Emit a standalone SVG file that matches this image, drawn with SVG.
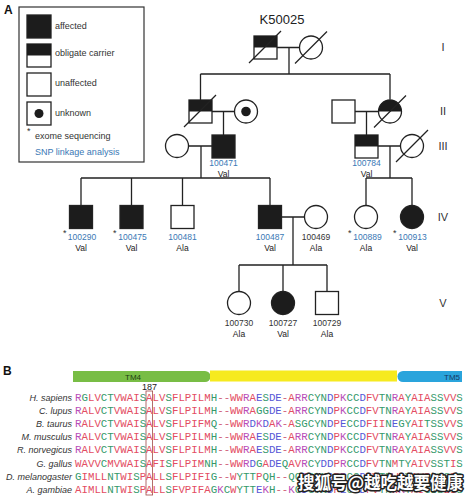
<svg xmlns="http://www.w3.org/2000/svg" width="466" height="499" viewBox="0 0 466 499">
<style>
.ln{stroke:#222;stroke-width:1.3;fill:none}
.sh{stroke:#222;stroke-width:1.3;fill:#fff}
.af{fill:#1c1c1c;stroke:#222;stroke-width:1.3}
.bk{fill:#1c1c1c}
.t{font-family:"Liberation Sans",Arial,sans-serif;fill:#333}
.lg{font-size:9px}
.id{font-size:8.5px;fill:#3a78b5;text-anchor:middle}
.idk{font-size:8.5px;fill:#333;text-anchor:middle}
.al{font-size:8.5px;fill:#222;text-anchor:middle}
.rn{font-size:11px;fill:#333;text-anchor:middle}
.sp{font-size:9px;font-style:italic;text-anchor:end;fill:#333}
.sq{font-family:"Liberation Mono","Courier New",monospace;font-size:10.78px}
.r{fill:#e34c62}.b{fill:#5656d6}.m{fill:#b84cb8}.g{fill:#33996a}.d{fill:#d0607a}
</style>

<text class="t" x="4" y="14" style="font-size:12px;font-weight:bold;fill:#111">A</text>
<g id="legend">
<rect x="19" y="7" width="125" height="155" fill="none" stroke="#333" stroke-width="1.2"/>
<rect class="af" x="27" y="15" width="24" height="23"/>
<text class="t lg" x="55" y="29">affected</text>
<rect class="sh" x="27" y="44" width="24" height="23"/>
<rect class="bk" x="27" y="44" width="24" height="11.5"/>
<text class="t lg" x="55" y="56">obligate carrier</text>
<rect class="sh" x="27" y="73" width="24" height="23"/>
<text class="t lg" x="55" y="86">unaffected</text>
<rect class="sh" x="27" y="102" width="24" height="23"/>
<circle class="bk" cx="39" cy="113.5" r="4.5"/>
<text class="t lg" x="55" y="116">unknown</text>
<text class="t lg" x="27" y="134">*</text>
<text class="t lg" x="35" y="139">exome sequencing</text>
<text class="t lg" x="35" y="155" style="fill:#3a78b5">SNP linkage analysis</text>
</g>

<text class="t" x="282" y="24" style="font-size:13px;text-anchor:middle;fill:#222">K50025</text>
<g id="generations">
<text class="t rn" x="443" y="51">I</text>
<text class="t rn" x="443" y="115">II</text>
<text class="t rn" x="443" y="150">III</text>
<text class="t rn" x="443" y="221">IV</text>
<text class="t rn" x="443" y="307">V</text>
</g>

<g id="connectors">
<path class="ln" d="M277 47.5H299.5M289 47.5V74M200.5 74H390M200.5 74V100M390 74V99.5"/>
<path class="ln" d="M212 111.5H234.5M223.5 111.5V135M355 111.5H378.5M366.5 111.5V135"/>
<path class="ln" d="M189 146H212M201 146V178M81 178H270M81 178V205.5M131.5 178V205.5M182.5 178V205.5M270 178V205.5"/>
<path class="ln" d="M378 146H400.5M390 146V178M366 178H412M366 178V205.5M412 178V205.5"/>
<path class="ln" d="M281.5 217H304.5M293 217V265M239 265H327M239 265V291.5M283 265V291.5M327 265V291.5"/>
</g>

<g id="I-1"><rect class="sh" x="254" y="36" width="23" height="23"/><rect class="bk" x="254" y="36" width="23" height="11.5"/><path class="ln" d="M249 63L281 31"/></g>
<g id="I-2"><circle class="sh" cx="311" cy="47.5" r="11.5"/><path class="ln" d="M295 63.5L327 31.5"/></g>

<g id="II-1"><rect class="sh" x="189" y="100" width="23" height="23"/><rect class="bk" x="189" y="100" width="23" height="11.5"/><path class="ln" d="M184 127L216 95"/></g>
<g id="II-2"><circle class="sh" cx="246" cy="111.5" r="11.5"/><circle class="bk" cx="246" cy="111.5" r="4.8"/></g>
<g id="II-3"><rect class="sh" x="332" y="100" width="23" height="23"/></g>
<g id="II-4"><circle class="sh" cx="390" cy="111.5" r="11.5"/><path class="bk" d="M378.5 111.5A11.5 11.5 0 0 1 401.5 111.5Z"/><path class="ln" d="M374 127.5L406 95.5"/></g>

<g id="III-1"><circle class="sh" cx="177" cy="146" r="11.5"/></g>
<g id="III-2"><rect class="af" x="212" y="135" width="23" height="23"/>
<text class="t id" x="223.5" y="166">100471</text><text class="t al" x="223.5" y="177">Val</text></g>
<g id="III-3"><rect class="sh" x="355" y="135" width="23" height="23"/><rect class="bk" x="355" y="135" width="23" height="11.5"/>
<text class="t id" x="366.5" y="166">100784</text><text class="t al" x="366.5" y="177">Val</text></g>
<g id="III-4"><circle class="sh" cx="412" cy="146" r="11.5"/><path class="ln" d="M396 162L428 130"/></g>

<g id="IV-1"><rect class="af" x="69.5" y="205.5" width="23" height="23"/>
<text class="t lg" x="63" y="236">*</text><text class="t id" x="82" y="240">100290</text><text class="t al" x="81" y="251">Val</text></g>
<g id="IV-2"><rect class="af" x="120" y="205.5" width="23" height="23"/>
<text class="t lg" x="113" y="236">*</text><text class="t id" x="132.5" y="240">100475</text><text class="t al" x="131.5" y="251">Val</text></g>
<g id="IV-3"><rect class="sh" x="171" y="205.5" width="23" height="23"/>
<text class="t id" x="182.5" y="240">100481</text><text class="t al" x="182.5" y="251">Ala</text></g>
<g id="IV-4"><rect class="af" x="258.5" y="205.5" width="23" height="23"/>
<text class="t id" x="270" y="240">100487</text><text class="t al" x="270" y="251">Val</text></g>
<g id="IV-5"><circle class="sh" cx="316" cy="217" r="11.5"/>
<text class="t idk" x="316" y="240">100469</text><text class="t al" x="316" y="251">Ala</text></g>
<g id="IV-6"><circle class="sh" cx="366" cy="217" r="11.5"/>
<text class="t lg" x="348" y="236">*</text><text class="t id" x="367.5" y="240">100889</text><text class="t al" x="366" y="251">Ala</text></g>
<g id="IV-7"><circle class="af" cx="412" cy="217" r="11.5"/>
<text class="t lg" x="393" y="236">*</text><text class="t id" x="412.5" y="240">100913</text><text class="t al" x="412" y="251">Val</text></g>

<g id="V-1"><circle class="sh" cx="239" cy="303" r="11.5"/>
<text class="t idk" x="239" y="326">100730</text><text class="t al" x="239" y="337">Ala</text></g>
<g id="V-2"><circle class="af" cx="283" cy="303" r="11.5"/>
<text class="t idk" x="283" y="326">100727</text><text class="t al" x="283" y="337">Val</text></g>
<g id="V-3"><rect class="sh" x="315.5" y="291.5" width="23" height="23"/>
<text class="t idk" x="327" y="326">100729</text><text class="t al" x="327" y="337">Ala</text></g>

<text class="t" x="3" y="375" style="font-size:12px;font-weight:bold;fill:#111">B</text>
<g id="domains">
<path d="M73 371H205A5.5 5.5 0 0 1 205 382H73Z" fill="#78bd45"/>
<rect x="210" y="370.5" width="187" height="11" fill="#f6ea1f"/>
<path d="M403 371H462V382H403A5.5 5.5 0 0 1 403 371Z" fill="#2aa4dc"/>
<text class="t" x="133" y="379.5" style="font-size:8px;text-anchor:middle;fill:#1e3d12">TM4</text>
<text class="t" x="460" y="379.5" style="font-size:8px;text-anchor:end;fill:#163a66">TM5</text>
</g>
<text class="t" x="149.5" y="390" style="font-size:9px;text-anchor:middle;fill:#222">187</text>
<rect x="146" y="391" width="6.6" height="104" fill="none" stroke="#a04848" stroke-width="0.8"/>

<g id="species">
<text class="t sp" x="72" y="400.5">H. sapiens</text>
<text class="t sp" x="72" y="413.7">C. lupus</text>
<text class="t sp" x="72" y="426.9">B. taurus</text>
<text class="t sp" x="72" y="440.1">M. musculus</text>
<text class="t sp" x="72" y="453.3">R. norvegicus</text>
<text class="t sp" x="72" y="466.5">G. gallus</text>
<text class="t sp" x="72" y="479.7">D. melanogaster</text>
<text class="t sp" x="72" y="492.9">A. gambiae</text>
</g>

<g id="alignment" class="sq">
<text x="75" y="400.5"><tspan class="m">R</tspan><tspan class="g">G</tspan><tspan class="r">LV</tspan><tspan class="g">CT</tspan><tspan class="r">VWAI</tspan><tspan class="g">S</tspan><tspan class="r">ALV</tspan><tspan class="g">S</tspan><tspan class="r">FLPILM</tspan><tspan class="g">H</tspan><tspan class="d">--</tspan><tspan class="r">WW</tspan><tspan class="m">R</tspan><tspan class="r">A</tspan><tspan class="b">E</tspan><tspan class="g">S</tspan><tspan class="b">DE</tspan><tspan class="d">-</tspan><tspan class="r">A</tspan><tspan class="m">RR</tspan><tspan class="g">CYN</tspan><tspan class="b">D</tspan><tspan class="r">P</tspan><tspan class="m">K</tspan><tspan class="g">CC</tspan><tspan class="b">D</tspan><tspan class="r">FV</tspan><tspan class="g">TN</tspan><tspan class="m">R</tspan><tspan class="r">A</tspan><tspan class="g">Y</tspan><tspan class="r">AIA</tspan><tspan class="g">SS</tspan><tspan class="r">VV</tspan><tspan class="g">S</tspan></text>
<text x="75" y="413.7"><tspan class="m">R</tspan><tspan class="r">ALV</tspan><tspan class="g">CT</tspan><tspan class="r">VWAI</tspan><tspan class="g">S</tspan><tspan class="r">ALV</tspan><tspan class="g">S</tspan><tspan class="r">FLPILM</tspan><tspan class="g">H</tspan><tspan class="d">--</tspan><tspan class="r">WW</tspan><tspan class="m">R</tspan><tspan class="r">A</tspan><tspan class="g">GG</tspan><tspan class="b">DE</tspan><tspan class="d">-</tspan><tspan class="r">A</tspan><tspan class="m">RR</tspan><tspan class="g">CYN</tspan><tspan class="b">D</tspan><tspan class="r">P</tspan><tspan class="m">K</tspan><tspan class="g">CC</tspan><tspan class="b">D</tspan><tspan class="r">FV</tspan><tspan class="g">TN</tspan><tspan class="m">R</tspan><tspan class="r">A</tspan><tspan class="g">Y</tspan><tspan class="r">AIA</tspan><tspan class="g">SS</tspan><tspan class="r">VV</tspan><tspan class="g">S</tspan></text>
<text x="75" y="426.9"><tspan class="m">R</tspan><tspan class="r">ALV</tspan><tspan class="g">CT</tspan><tspan class="r">VWAI</tspan><tspan class="g">S</tspan><tspan class="r">ALV</tspan><tspan class="g">S</tspan><tspan class="r">FLPIFM</tspan><tspan class="g">Q</tspan><tspan class="d">--</tspan><tspan class="r">WW</tspan><tspan class="m">R</tspan><tspan class="b">D</tspan><tspan class="m">K</tspan><tspan class="b">D</tspan><tspan class="r">A</tspan><tspan class="m">K</tspan><tspan class="d">-</tspan><tspan class="r">A</tspan><tspan class="g">SGCYN</tspan><tspan class="b">D</tspan><tspan class="r">P</tspan><tspan class="b">E</tspan><tspan class="g">CC</tspan><tspan class="b">D</tspan><tspan class="r">FII</tspan><tspan class="g">N</tspan><tspan class="b">E</tspan><tspan class="g">GY</tspan><tspan class="r">AI</tspan><tspan class="g">TSS</tspan><tspan class="r">VV</tspan><tspan class="g">S</tspan></text>
<text x="75" y="440.1"><tspan class="m">R</tspan><tspan class="r">ALV</tspan><tspan class="g">CT</tspan><tspan class="r">VWAI</tspan><tspan class="g">S</tspan><tspan class="r">ALV</tspan><tspan class="g">S</tspan><tspan class="r">FLPILM</tspan><tspan class="g">H</tspan><tspan class="d">--</tspan><tspan class="r">WW</tspan><tspan class="m">R</tspan><tspan class="r">A</tspan><tspan class="b">E</tspan><tspan class="g">S</tspan><tspan class="b">DE</tspan><tspan class="d">-</tspan><tspan class="r">A</tspan><tspan class="m">RR</tspan><tspan class="g">CYN</tspan><tspan class="b">D</tspan><tspan class="r">P</tspan><tspan class="m">K</tspan><tspan class="g">CC</tspan><tspan class="b">D</tspan><tspan class="r">FV</tspan><tspan class="g">TN</tspan><tspan class="m">R</tspan><tspan class="r">A</tspan><tspan class="g">Y</tspan><tspan class="r">AIA</tspan><tspan class="g">SS</tspan><tspan class="r">VV</tspan><tspan class="g">S</tspan></text>
<text x="75" y="453.3"><tspan class="m">R</tspan><tspan class="r">ALV</tspan><tspan class="g">CT</tspan><tspan class="r">VWAI</tspan><tspan class="g">S</tspan><tspan class="r">ALV</tspan><tspan class="g">S</tspan><tspan class="r">FLPILM</tspan><tspan class="g">H</tspan><tspan class="d">--</tspan><tspan class="r">WW</tspan><tspan class="m">R</tspan><tspan class="r">A</tspan><tspan class="b">E</tspan><tspan class="g">S</tspan><tspan class="b">DE</tspan><tspan class="d">-</tspan><tspan class="r">A</tspan><tspan class="m">RR</tspan><tspan class="g">CYN</tspan><tspan class="b">D</tspan><tspan class="r">P</tspan><tspan class="m">K</tspan><tspan class="g">CC</tspan><tspan class="b">D</tspan><tspan class="r">FV</tspan><tspan class="g">TN</tspan><tspan class="m">R</tspan><tspan class="r">A</tspan><tspan class="g">Y</tspan><tspan class="r">AIA</tspan><tspan class="g">SS</tspan><tspan class="r">VV</tspan><tspan class="g">S</tspan></text>
<text x="75" y="466.5"><tspan class="r">WAVV</tspan><tspan class="g">C</tspan><tspan class="r">MVWAI</tspan><tspan class="g">S</tspan><tspan class="r">AFI</tspan><tspan class="g">S</tspan><tspan class="r">FLPIM</tspan><tspan class="g">NH</tspan><tspan class="d">--</tspan><tspan class="r">WW</tspan><tspan class="m">R</tspan><tspan class="b">D</tspan><tspan class="g">G</tspan><tspan class="r">A</tspan><tspan class="b">DE</tspan><tspan class="g">Q</tspan><tspan class="r">AV</tspan><tspan class="m">R</tspan><tspan class="g">CY</tspan><tspan class="b">DD</tspan><tspan class="r">P</tspan><tspan class="m">R</tspan><tspan class="g">CC</tspan><tspan class="b">D</tspan><tspan class="r">FV</tspan><tspan class="g">TN</tspan><tspan class="r">M</tspan><tspan class="g">TY</tspan><tspan class="r">AIV</tspan><tspan class="g">SST</tspan><tspan class="r">I</tspan><tspan class="g">S</tspan></text>
<text x="75" y="479.7"><tspan class="g">G</tspan><tspan class="r">IMLL</tspan><tspan class="g">NT</tspan><tspan class="r">WI</tspan><tspan class="g">S</tspan><tspan class="r">PALL</tspan><tspan class="g">S</tspan><tspan class="r">FLPIFI</tspan><tspan class="g">G</tspan><tspan class="d">--</tspan><tspan class="r">W</tspan><tspan class="g">YTT</tspan><tspan class="r">P</tspan><tspan class="g">QH</tspan><tspan class="d">--</tspan><tspan class="g">QG</tspan><tspan class="m">R</tspan><tspan class="g">CYN</tspan><tspan class="b">D</tspan><tspan class="r">P</tspan><tspan class="m">R</tspan><tspan class="g">CC</tspan><tspan class="b">D</tspan><tspan class="r">FV</tspan><tspan class="g">TN</tspan><tspan class="r">W</tspan><tspan class="m">K</tspan><tspan class="g">Y</tspan><tspan class="r">AVI</tspan><tspan class="g">GSS</tspan><tspan class="r">I</tspan><tspan class="g">S</tspan></text>
<text x="75" y="492.9"><tspan class="r">AIMLL</tspan><tspan class="g">NT</tspan><tspan class="r">WI</tspan><tspan class="g">S</tspan><tspan class="r">PALL</tspan><tspan class="g">S</tspan><tspan class="r">FVPIFA</tspan><tspan class="g">G</tspan><tspan class="m">K</tspan><tspan class="g">C</tspan><tspan class="r">W</tspan><tspan class="g">YTT</tspan><tspan class="b">E</tspan><tspan class="m">K</tspan><tspan class="g">H</tspan><tspan class="d">--</tspan><tspan class="m">K</tspan><tspan class="g">G</tspan><tspan class="b">D</tspan><tspan class="g">CYN</tspan><tspan class="b">D</tspan><tspan class="r">P</tspan><tspan class="b">E</tspan><tspan class="g">CC</tspan><tspan class="b">D</tspan><tspan class="r">FV</tspan><tspan class="g">TN</tspan><tspan class="r">W</tspan><tspan class="m">K</tspan><tspan class="g">Y</tspan><tspan class="r">AI</tspan><tspan class="g">GSS</tspan><tspan class="r">LI</tspan><tspan class="g">S</tspan></text>
</g>

<text x="298" y="489" style="font-family:'Noto Sans CJK SC','Noto Sans',sans-serif;font-size:16.5px;font-weight:bold;fill:#fff;stroke:#222;stroke-width:3;paint-order:stroke;stroke-linejoin:round">搜狐号@越吃越要健康</text>
</svg>
